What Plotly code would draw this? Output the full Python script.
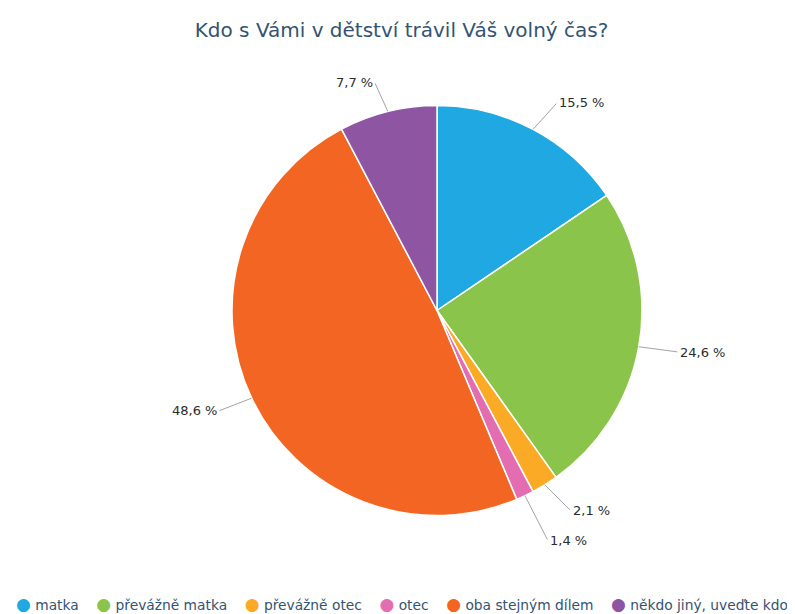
import math
import plotly.graph_objects as go

# data
labels = ["matka", "převážně matka", "převážně otec", "otec", "oba stejným dílem", "někdo jiný, uveďte kdo"]
values = [15.5, 24.6, 2.1, 1.4, 48.6, 7.7]
value_texts = ["15,5 %", "24,6 %", "2,1 %", "1,4 %", "48,6 %", "7,7 %"]
colors = ["#1fa8e1", "#8bc44a", "#fbaa26", "#e46db2", "#f26522", "#8e55a3"]

# the page body has an 8px margin, so the figure is drawn 8px in from the corner
W, H = 787, 606
cx, cy, r = 429, 302.5, 205
font = "DejaVu Sans, sans-serif"
text_col = "#345371"

fig = go.Figure()
fig.add_trace(go.Pie(
    labels=labels, values=values, sort=False, direction="clockwise", rotation=0,
    marker=dict(colors=colors, line=dict(color="white", width=1.5)),
    textinfo="none", hoverinfo="label+percent", showlegend=False,
    domain=dict(x=[(cx - r) / W, (cx + r) / W],
                y=[1 - (cy + r) / H, 1 - (cy - r) / H]),
))

# outside labels with connector lines, highcharts-like placement
total = sum(values)
R = r + 30
items = []
cum = 0
for v, txt in zip(values, value_texts):
    mid = (cum + v / 2) / total * 2 * math.pi
    cum += v
    s, c = math.sin(mid), math.cos(mid)
    items.append(dict(txt=txt, s=s, c=c, right=s >= 0, ty=cy - R * c))

# push overlapping labels apart on each side
for side in (True, False):
    grp = sorted([it for it in items if it["right"] == side], key=lambda it: it["ty"])
    for a, b in zip(grp, grp[1:]):
        if b["ty"] - a["ty"] < 30:
            b["ty"] = a["ty"] + 30

for it in items:
    s, c = it["s"], it["c"]
    ex, ey = cx + r * s, cy - r * c
    tx = cx + R * s + (10 if it["right"] else -6)
    fig.add_annotation(
        x=ex / W, y=1 - ey / H, xref="paper", yref="paper",
        ax=tx - ex, ay=it["ty"] - ey, axref="pixel", ayref="pixel",
        text=it["txt"], showarrow=True, arrowhead=0, arrowwidth=1, arrowcolor="#a3a3a3",
        standoff=0, startstandoff=1,
        xanchor="left" if it["right"] else "right", yanchor="middle",
        font=dict(family=font, size=13, color="#2b2b2b"),
    )

# legend drawn as one centered line with round colored markers
nb = "\u00a0"
parts = []
for lab, col in zip(labels, colors):
    parts.append(f"<span style='color:{col};font-size:17px'>●</span>{nb}{lab}")
legend_text = (nb * 4).join(parts)
fig.add_annotation(
    x=0.5, y=1 - 596 / H, xref="paper", yref="paper", showarrow=False,
    xanchor="center", yanchor="middle", text=legend_text,
    font=dict(family=font, size=13.8, color=text_col),
)

fig.update_layout(
    width=W, height=H,
    margin=dict(l=0, r=0, t=0, b=0),
    paper_bgcolor="white", plot_bgcolor="white",
    title=dict(text="Kdo s Vámi v dětství trávil Váš volný čas?",
               x=0.5, xanchor="center", y=1 - 22 / H, yanchor="middle",
               font=dict(family=font, size=20, color=text_col)),
    showlegend=False,
)

fig.write_html("out.html")
